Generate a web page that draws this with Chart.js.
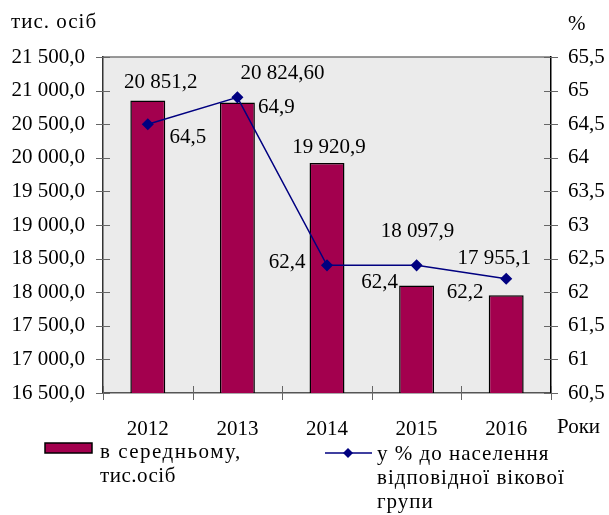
<!DOCTYPE html>
<html>
<head>
<meta charset="utf-8">
<script src="https://cdn.jsdelivr.net/npm/chart.js@4/dist/chart.umd.min.js"></script>
<style>
  html, body { margin: 0; padding: 0; background: #fff; }
  #wrap { width: 609px; height: 515px; position: relative; }
</style>
</head>
<body>
<div id="wrap"><canvas id="myChart"></canvas></div>
<script>
// data
var years = ['2012', '2013', '2014', '2015', '2016'];
var avgThousands = [20851.2, 20824.6, 19920.9, 18097.9, 17955.1];
var avgLabels = ['20 851,2', '20 824,60', '19 920,9', '18 097,9', '17 955,1'];
var sharePct = [64.5, 64.9, 62.4, 62.4, 62.2];
var shareLabels = ['64,5', '64,9', '62,4', '62,4', '62,2'];
var barLegend = ['в середньому,', 'тис.осіб'];
var lineLegend = ['у % до населення', 'відповідної вікової', 'групи'];

// label nudges (px), as placed in the original
var barLabelShift = [[13, -18], [45, -29], [2, -16], [1, -54], [-12, -37]];
var lineLabelShift = [[40, 13], [39, 10], [-40, -3], [-37, 17], [-41, 14]];

var barColor = '#a3004e';
var lineColor = '#000080';
var FONT = '"Liberation Serif", "Times New Roman", serif';
var FS = 21;

function fmtLeft(v) {
  var s = Number(v).toFixed(1).replace('.', ',');
  return s.replace(/^(\d+)(\d{3}),/, '$1 $2,');
}
function fmtRight(v) {
  return String(Math.round(v * 10) / 10).replace('.', ',');
}

var decor = {
  id: 'decor',
  beforeDraw: function (chart) {
    var a = chart.chartArea, ctx = chart.ctx;
    ctx.save();
    ctx.fillStyle = '#ebebeb';
    ctx.fillRect(a.left, a.top, a.right - a.left, a.bottom - a.top);
    ctx.strokeStyle = '#777';
    ctx.lineWidth = 1.5;
    ctx.beginPath();
    ctx.moveTo(a.left, a.top);
    ctx.lineTo(a.right, a.top);
    ctx.stroke();
    ctx.restore();
  },
  afterDraw: function (chart) {
    var a = chart.chartArea, ctx = chart.ctx;
    var y = chart.scales.y, y1 = chart.scales.y1, x = chart.scales.x;
    ctx.save();
    // crossing tick marks
    ctx.strokeStyle = '#666';
    ctx.lineWidth = 1;
    ctx.beginPath();
    y.ticks.forEach(function (t, i) {
      var p = Math.round(y.getPixelForTick(i)) + 0.5;
      ctx.moveTo(a.left - 7, p); ctx.lineTo(a.left + 7, p);
    });
    y1.ticks.forEach(function (t, i) {
      var p = Math.round(y1.getPixelForTick(i)) + 0.5;
      ctx.moveTo(a.right - 7, p); ctx.lineTo(a.right + 7, p);
    });
    var half = (x.getPixelForValue(1) - x.getPixelForValue(0)) / 2;
    for (var i = 0; i <= years.length; i++) {
      var px = Math.round(x.getPixelForValue(0) - half + i * 2 * half) + 0.5;
      ctx.moveTo(px, a.bottom - 7); ctx.lineTo(px, a.bottom + 7);
    }
    ctx.stroke();

    // axis titles
    ctx.fillStyle = '#000';
    ctx.font = FS + 'px ' + FONT;
    ctx.textBaseline = 'alphabetic';
    ctx.textAlign = 'left';
    ctx.letterSpacing = '1px';
    ctx.fillText('тис. осіб', 11, 28);
    ctx.letterSpacing = '0px';
    ctx.fillText('%', 568, 30);
    ctx.fillText('Роки', 557, 433);

    // legend
    ctx.fillStyle = barColor;
    ctx.fillRect(45, 443, 47, 10);
    ctx.strokeStyle = '#000';
    ctx.lineWidth = 1.5;
    ctx.strokeRect(45, 443, 47, 10);
    ctx.fillStyle = '#000';
    ctx.letterSpacing = '1.5px';
    ctx.fillText(barLegend[0], 100, 458);
    ctx.letterSpacing = '0.5px';
    ctx.fillText(barLegend[1], 100, 482);

    ctx.strokeStyle = lineColor;
    ctx.lineWidth = 1.5;
    ctx.beginPath();
    ctx.moveTo(325, 453); ctx.lineTo(372, 453);
    ctx.stroke();
    ctx.fillStyle = lineColor;
    ctx.beginPath();
    ctx.moveTo(348, 448); ctx.lineTo(353, 453); ctx.lineTo(348, 458); ctx.lineTo(343, 453);
    ctx.closePath();
    ctx.fill();
    ctx.fillStyle = '#000';
    ctx.letterSpacing = '1px';
    lineLegend.forEach(function (s, i) { ctx.fillText(s, 377, 460 + i * 24); });
    ctx.restore();
  },
  afterDatasetsDraw: function (chart) {
    var ctx = chart.ctx;
    var lineMeta = chart.getDatasetMeta(0);
    var barMeta = chart.getDatasetMeta(1);
    ctx.save();
    ctx.fillStyle = '#000';
    ctx.font = FS + 'px ' + FONT;
    ctx.textAlign = 'center';
    ctx.textBaseline = 'middle';
    barMeta.data.forEach(function (el, i) {
      ctx.fillText(avgLabels[i], el.x + barLabelShift[i][0], el.y + barLabelShift[i][1]);
    });
    lineMeta.data.forEach(function (el, i) {
      ctx.fillText(shareLabels[i], el.x + lineLabelShift[i][0], el.y + lineLabelShift[i][1]);
    });
    ctx.restore();
  }
};

var canvas = document.getElementById('myChart');
var chart = new Chart(canvas, {
  type: 'bar',
  data: {
    labels: years,
    datasets: [
      {
        type: 'line',
        label: lineLegend.join(' '),
        data: sharePct,
        yAxisID: 'y1',
        borderColor: lineColor,
        backgroundColor: lineColor,
        borderWidth: 1.5,
        pointStyle: 'rectRot',
        pointRadius: 5,
        pointHoverRadius: 5,
        tension: 0,
        order: 0
      },
      {
        type: 'bar',
        label: barLegend.join(' '),
        data: avgThousands,
        yAxisID: 'y',
        backgroundColor: barColor,
        borderColor: '#000',
        borderWidth: 1.5,
        borderSkipped: false,
        barPercentage: 0.39,
        categoryPercentage: 1,
        order: 1
      }
    ]
  },
  options: {
    responsive: true,
    maintainAspectRatio: false,
    animation: false,
    layout: { padding: { top: 57, left: 0, right: 0, bottom: 0 } },
    plugins: {
      legend: { display: false },
      title: { display: false },
      tooltip: { enabled: false }
    },
    scales: {
      x: {
        offset: true,
        grid: { display: false, drawTicks: false },
        border: { display: true, color: '#555', width: 1.5 },
        ticks: { color: '#000', font: { family: FONT, size: FS }, padding: 24, maxRotation: 0 },
        afterFit: function (s) { s.height = 122; }
      },
      y: {
        position: 'left',
        min: 16500,
        max: 21500,
        grid: { display: false, drawTicks: false },
        border: { display: true, color: '#333', width: 1.5 },
        ticks: {
          stepSize: 500,
          color: '#000',
          padding: 18,
          font: { family: FONT, size: FS },
          callback: function (v) { return fmtLeft(v); }
        },
        afterFit: function (s) { s.width = 103; }
      },
      y1: {
        position: 'right',
        min: 60.5,
        max: 65.5,
        grid: { display: false, drawTicks: false },
        border: { display: true, color: '#000', width: 1.5 },
        ticks: {
          stepSize: 0.5,
          color: '#000',
          padding: 17,
          font: { family: FONT, size: FS },
          callback: function (v) { return fmtRight(v); }
        },
        afterFit: function (s) { s.width = 58; }
      }
    }
  },
  plugins: [decor]
});
</script>
</body>
</html>
